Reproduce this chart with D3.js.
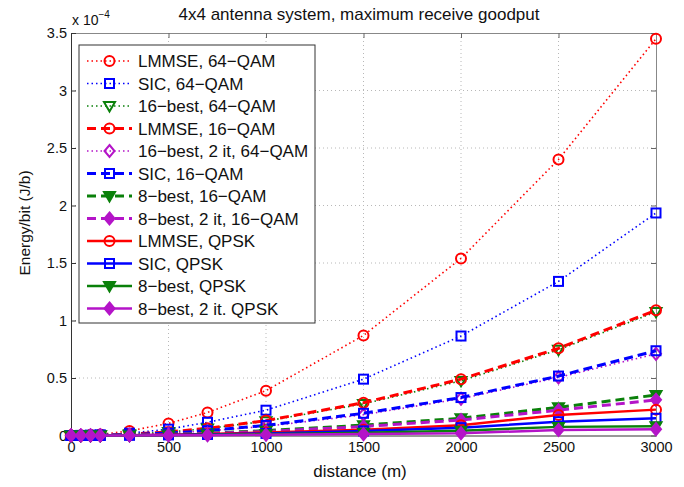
<!DOCTYPE html>
<html lang="en">
<head>
<meta charset="UTF-8">
<title>4x4 antenna system, maximum receive goodput</title>
<script src="https://d3js.org/d3.v7.min.js"></script>
<style>
    body { margin: 0; background: #fff; }
    svg { display: block; font-family: "Liberation Sans", Arial, sans-serif; }
</style>
</head>
<body>
<svg id="chart" width="684" height="487"></svg>
<script>
    // distances (m) and energy per bit (x 1e-4 J/b)
    const distances = [0, 50, 100, 150, 300, 500, 700, 1000, 1500, 2000, 2500, 3000];
    const xTicks = [0, 500, 1000, 1500, 2000, 2500, 3000];
    const yTicks = [0, 0.5, 1, 1.5, 2, 2.5, 3, 3.5];

    const lmmse64 = [0, 0.001, 0.004, 0.009, 0.04, 0.105, 0.2, 0.39, 0.87, 1.54, 2.40, 3.45];
    const sic64 = [0, 0.0006, 0.0024, 0.005, 0.02, 0.055, 0.115, 0.22, 0.49, 0.865, 1.34, 1.935];
    const best16_64 = [0, 0.0003, 0.0013, 0.003, 0.011, 0.03, 0.06, 0.125, 0.275, 0.475, 0.745, 1.075];
    const lmmse16 = [0, 0.0003, 0.0013, 0.003, 0.011, 0.031, 0.062, 0.13, 0.285, 0.49, 0.758, 1.09];
    const best16it_64 = [0, 0.0002, 0.0008, 0.002, 0.007, 0.02, 0.04, 0.08, 0.18, 0.32, 0.505, 0.71];
    const sic16 = [0, 0.0002, 0.0009, 0.002, 0.008, 0.021, 0.042, 0.088, 0.193, 0.33, 0.517, 0.737];
    const best8_16 = [0, 0.0001, 0.0004, 0.001, 0.004, 0.01, 0.02, 0.042, 0.09, 0.15, 0.245, 0.352];
    const best8it_16 = [0, 0.0001, 0.0003, 0.0008, 0.003, 0.009, 0.017, 0.035, 0.078, 0.135, 0.22, 0.31];
    const lmmseQ = [0, 0.0001, 0.0003, 0.0006, 0.0025, 0.007, 0.013, 0.027, 0.05, 0.09, 0.178, 0.225];
    const sicQ = [0, 0.0001, 0.0002, 0.0004, 0.0015, 0.005, 0.009, 0.018, 0.04, 0.068, 0.12, 0.15];
    const best8Q = [0, 0, 0.0001, 0.0003, 0.001, 0.003, 0.006, 0.011, 0.025, 0.042, 0.075, 0.08];
    const best8itQ = [0, 0, 0.0001, 0.0002, 0.0005, 0.0015, 0.003, 0.006, 0.012, 0.02, 0.048, 0.055];

    const names = [
        "LMMSE, 64\u2212QAM", "SIC, 64\u2212QAM", "16\u2212best, 64\u2212QAM", "LMMSE, 16\u2212QAM",
        "16\u2212best, 2 it, 64\u2212QAM", "SIC, 16\u2212QAM", "8\u2212best, 16\u2212QAM", "8\u2212best, 2 it, 16\u2212QAM",
        "LMMSE, QPSK", "SIC, QPSK", "8\u2212best, QPSK", "8\u2212best, 2 it. QPSK"
    ];

    const red = "#f00", blue = "#00f", green = "#0a800a", mag = "#b414c8";
    const dotted = "1.5,3", dashed = "9,5";

    // style per series
    const series = [
        { vals: lmmse64, color: red, dash: dotted, w: 1.6, mk: "circle", fill: false },
        { vals: sic64, color: blue, dash: dotted, w: 1.6, mk: "square", fill: false },
        { vals: best16_64, color: green, dash: dotted, w: 1.6, mk: "tri", fill: false },
        { vals: lmmse16, color: red, dash: dashed, w: 3, mk: "circle", fill: false },
        { vals: best16it_64, color: mag, dash: dotted, w: 1.6, mk: "diamond", fill: false },
        { vals: sic16, color: blue, dash: dashed, w: 3, mk: "square", fill: false },
        { vals: best8_16, color: green, dash: dashed, w: 3, mk: "tri", fill: true },
        { vals: best8it_16, color: mag, dash: dashed, w: 3, mk: "diamond", fill: true },
        { vals: lmmseQ, color: red, dash: null, w: 2.5, mk: "circle", fill: false },
        { vals: sicQ, color: blue, dash: null, w: 2.5, mk: "square", fill: false },
        { vals: best8Q, color: green, dash: null, w: 2.5, mk: "tri", fill: true },
        { vals: best8itQ, color: mag, dash: null, w: 2.5, mk: "diamond", fill: true }
    ].map((s, i) => ({ ...s, name: names[i] }));

    const svg = d3.select("#chart");
    const pLeft = 71, pRight = 656, pTop = 33, pBottom = 435.5;

    const x = d3.scaleLinear().domain([0, 3000]).range([pLeft, pRight]);
    const y = d3.scaleLinear().domain([0, 3.5]).range([pBottom, pTop]);

    // grid
    const grid = svg.append("g").attr("stroke", "#b8b8b8").attr("stroke-width", 1).attr("stroke-dasharray", "1,3");
    xTicks.slice(1, -1).forEach(t => {
        grid.append("line").attr("x1", x(t)).attr("x2", x(t)).attr("y1", pTop).attr("y2", pBottom);
    });
    yTicks.slice(1, -1).forEach(t => {
        grid.append("line").attr("x1", pLeft).attr("x2", pRight).attr("y1", y(t)).attr("y2", y(t));
    });

    // axes with inward ticks
    const xAxis = svg.append("g").attr("transform", `translate(0,${pBottom})`)
        .call(d3.axisBottom(x).tickValues(xTicks).tickSize(-5).tickPadding(6).tickFormat(d3.format("d")));
    const xAxisTop = svg.append("g").attr("transform", `translate(0,${pTop})`)
        .call(d3.axisTop(x).tickValues(xTicks).tickSize(-5).tickFormat(""));
    const yAxis = svg.append("g").attr("transform", `translate(${pLeft},0)`)
        .call(d3.axisLeft(y).tickValues(yTicks).tickSize(-5).tickPadding(4).tickFormat(d => d));
    const yAxisRight = svg.append("g").attr("transform", `translate(${pRight},0)`)
        .call(d3.axisRight(y).tickValues(yTicks).tickSize(-5).tickFormat(""));
    [xAxis, yAxis].forEach(a => {
        a.select(".domain").attr("stroke", "#333");
        a.selectAll(".tick line").attr("stroke", "#333");
        a.selectAll("text").attr("font-size", 14.5).attr("fill", "#111").attr("font-family", "Liberation Sans, Arial, sans-serif");
    });
    [xAxisTop, yAxisRight].forEach(a => {
        a.select(".domain").attr("stroke", "#888");
        a.selectAll(".tick line").attr("stroke", "#666");
    });

    // marker drawing
    function marker(g, mk, cx, cy, color, fill) {
        let el;
        if (mk === "circle") {
            el = g.append("circle").attr("cx", cx).attr("cy", cy).attr("r", 5);
        } else if (mk === "square") {
            el = g.append("rect").attr("x", cx - 4.5).attr("y", cy - 4.5).attr("width", 9).attr("height", 9);
        } else if (mk === "tri") {
            el = g.append("path").attr("d", `M${cx - 5.5},${cy - 4} L${cx + 5.5},${cy - 4} L${cx},${cy + 5.5} Z`);
        } else {
            el = g.append("path").attr("d", `M${cx},${cy - 6} L${cx + 5},${cy} L${cx},${cy + 6} L${cx - 5},${cy} Z`);
        }
        el.attr("fill", fill ? color : "none").attr("stroke", color).attr("stroke-width", 2);
    }

    const line = d3.line().x(d => x(d[0])).y(d => y(d[1]));
    const plot = svg.append("g");
    series.forEach(s => {
        const pts = distances.map((d, i) => [d, s.vals[i]]);
        const g = plot.append("g");
        g.append("path").datum(pts).attr("d", line).attr("fill", "none")
            .attr("stroke", s.color).attr("stroke-width", s.w)
            .attr("stroke-dasharray", s.dash);
        pts.forEach(p => marker(g, s.mk, x(p[0]), y(p[1]), s.color, s.fill));
    });

    // legend
    const lg = svg.append("g");
    lg.append("rect").attr("x", 79).attr("y", 45).attr("width", 236).attr("height", 278)
        .attr("fill", "#fff").attr("stroke", "#333").attr("stroke-width", 1);
    series.forEach((s, i) => {
        const ly = 61 + i * 22.5;
        lg.append("line").attr("x1", 87).attr("x2", 132).attr("y1", ly).attr("y2", ly)
            .attr("stroke", s.color).attr("stroke-width", s.w).attr("stroke-dasharray", s.dash);
        marker(lg, s.mk, 109.5, ly, s.color, s.fill);
        lg.append("text").attr("x", 138).attr("y", ly).attr("dy", "0.36em")
            .attr("font-size", 17).attr("fill", "#111").text(s.name);
    });

    // labels
    svg.append("text").attr("x", 359).attr("y", 20).attr("text-anchor", "middle")
        .attr("font-size", 17).attr("fill", "#111").text("4x4 antenna system, maximum receive goodput");
    svg.append("text").attr("x", 360).attr("y", 477).attr("text-anchor", "middle")
        .attr("font-size", 17).attr("fill", "#111").text("distance (m)");
    svg.append("text").attr("transform", "translate(30,223) rotate(-90)").attr("text-anchor", "middle")
        .attr("font-size", 15.5).attr("fill", "#111").text("Energy/bit (J/b)");
    const ex = svg.append("text").attr("x", 72).attr("y", 25).attr("font-size", 14).attr("fill", "#111");
    ex.append("tspan").text("x 10");
    ex.append("tspan").attr("dy", -7).attr("font-size", 10).text("\u22124");
</script>
</body>
</html>
